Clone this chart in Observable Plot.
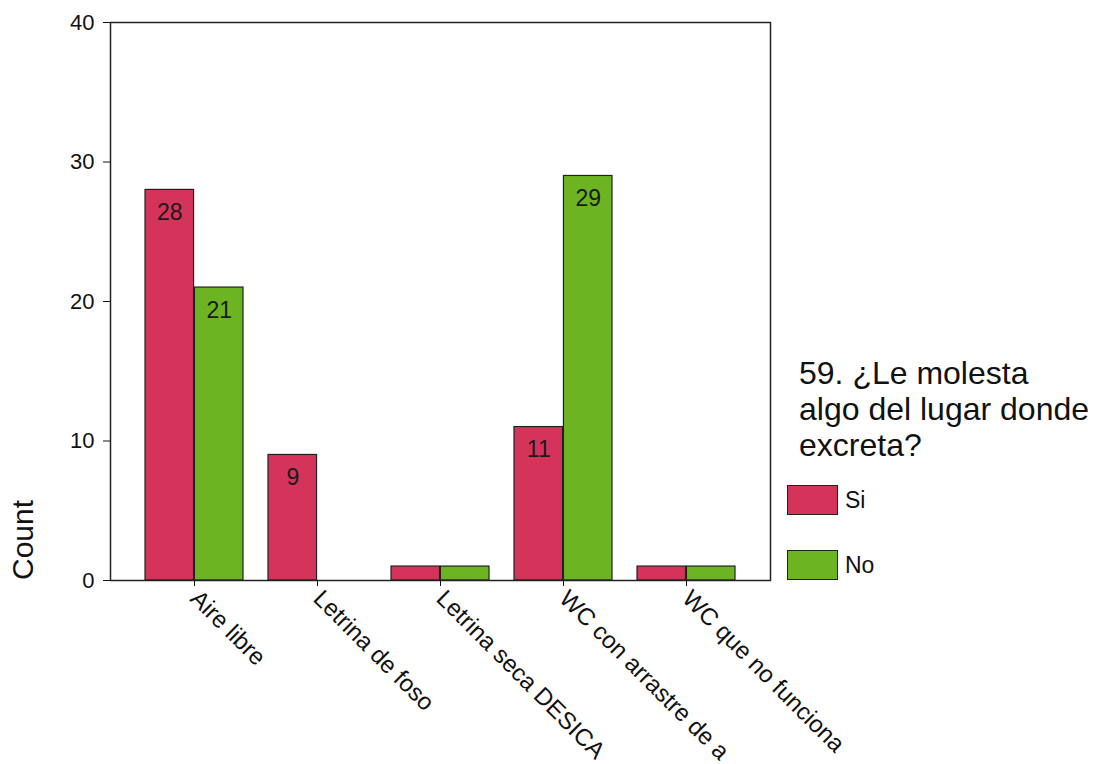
<!DOCTYPE html>
<html>
<head>
<meta charset="utf-8">
<script src="https://cdn.jsdelivr.net/npm/d3@7"></script>
<script src="https://cdn.jsdelivr.net/npm/@observablehq/plot@0.6"></script>
<style>
  html, body { margin: 0; padding: 0; background: #fff; }
  #wrap { position: relative; width: 1095px; height: 764px; font-family: "Liberation Sans", Arial, sans-serif; color: #111; }
  #wrap svg g[aria-label^="x-axis"] text { font-size: 24px; }
  #ylabel { position: absolute; left: 8px; top: 580px; transform-origin: 0 0; transform: rotate(-90deg); font-size: 30px; line-height: 30px; white-space: nowrap; }
  #legend-title { position: absolute; left: 799px; top: 355px; font-size: 32px; line-height: 36px; white-space: nowrap; }
  .sw { position: absolute; left: 787px; width: 49px; height: 28px; border: 1px solid #222; }
  .swl { position: absolute; left: 845px; font-size: 23px; line-height: 23px; }
</style>
</head>
<body>
<div id="wrap"></div>
<script>
const categories = ["Aire libre", "Letrina de foso", "Letrina seca DESICA", "WC con arrastre de a", "WC que no funciona"];
const responses = ["Si", "No"];
const siCounts = [28, 9, 1, 11, 1];
const noCounts = [21, 0, 1, 29, 1];
const colors = ["#d4345a", "#6cb421"];
const yTicks = [0, 10, 20, 30, 40];
const legendTitle = ["59. ¿Le molesta", "algo del lugar donde", "excreta?"];

const rows = [];
categories.forEach((c, i) => {
  rows.push({category: c, response: "Si", count: siCounts[i]});
  rows.push({category: c, response: "No", count: noCounts[i]});
});

const W = 1095, H = 764, ML = 110, MR = 325, MT = 22, MB = 184;
const pIn = 0.2, pOut = 0.27;
const step = (W - ML - MR) / (categories.length - pIn + 2 * pOut);
const half = step * (1 - pIn) / 2;

const siRows = rows.filter(d => d.response === "Si" && d.count > 0);
const noRows = rows.filter(d => d.response === "No" && d.count > 0);

const chart = Plot.plot({
  width: W, height: H,
  marginLeft: ML, marginRight: MR, marginTop: MT, marginBottom: MB,
  style: {fontFamily: "'Liberation Sans', Arial, sans-serif", fontSize: "22px", color: "#111", background: "transparent"},
  x: {domain: categories, paddingInner: pIn, paddingOuter: pOut, label: null, tickSize: 6, tickRotate: 45, tickPadding: 8},
  y: {domain: [0, 40], ticks: yTicks, tickSize: 7, tickPadding: 9, label: null},
  color: {domain: responses, range: colors},
  marks: [
    Plot.barY(siRows, {x: "category", y: "count", fill: "response", stroke: "#222", strokeWidth: 1.2, insetRight: half}),
    Plot.barY(noRows, {x: "category", y: "count", fill: "response", stroke: "#222", strokeWidth: 1.2, insetLeft: half}),
    Plot.text(siRows.filter(d => d.count >= 5), {x: "category", y: "count", text: d => String(d.count), dx: -half / 2, dy: 23, fontSize: 23, fill: "#1a1a1a", lineAnchor: "middle"}),
    Plot.text(noRows.filter(d => d.count >= 5), {x: "category", y: "count", text: d => String(d.count), dx: half / 2, dy: 23, fontSize: 23, fill: "#1a1a1a", lineAnchor: "middle"}),
    Plot.frame({stroke: "#222", strokeWidth: 1.5})
  ]
});

const wrap = document.getElementById("wrap");
wrap.appendChild(chart);

const yl = document.createElement("div");
yl.id = "ylabel"; yl.textContent = "Count";
wrap.appendChild(yl);

const lt = document.createElement("div");
lt.id = "legend-title";
legendTitle.forEach((line, i) => {
  const s = document.createElement("div");
  s.textContent = line;
  lt.appendChild(s);
});
wrap.appendChild(lt);

const swTops = [485, 550];
responses.forEach((r, i) => {
  const sw = document.createElement("div");
  sw.className = "sw";
  sw.style.top = swTops[i] + "px";
  sw.style.background = colors[i];
  wrap.appendChild(sw);
  const lb = document.createElement("div");
  lb.className = "swl";
  lb.style.top = (swTops[i] + 4) + "px";
  lb.textContent = r;
  wrap.appendChild(lb);
});
</script>
</body>
</html>
